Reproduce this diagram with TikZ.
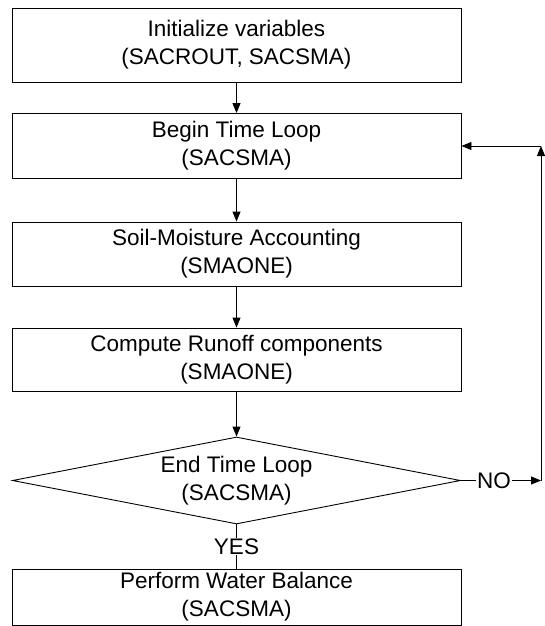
\documentclass[tikz,border=0pt]{standalone}
\usepackage{fontspec}
\setmainfont{Liberation Sans}
\usetikzlibrary{shapes.geometric,arrows.meta}
\tikzset{
  stepbox/.style={draw, rectangle, line width=0.9pt, minimum width=449pt,
    inner sep=0pt, align=center, font=\fontsize{22.5}{28}\selectfont},
  testbox/.style={draw, diamond, line width=0.9pt, minimum width=448pt,
    minimum height=87pt, aspect=5.15, inner sep=0pt, align=center,
    font=\fontsize{22.5}{28}\selectfont},
  flow/.style={line width=0.9pt, -{Triangle[length=10pt,width=8pt]}},
  tag/.style={font=\fontsize{22.5}{24}\selectfont, fill=white, inner sep=1pt}
}
\begin{document}
\begin{tikzpicture}[x=1pt,y=-1pt]
\useasboundingbox (0,0) rectangle (545,626);
\node[stepbox, minimum height=74pt] (init) at (236.5,45) {Initialize variables\\(SACROUT, SACSMA)};
\node[stepbox, minimum height=65pt] (begin) at (236.5,146) {Begin Time Loop\\(SACSMA)};
\node[stepbox, minimum height=64pt] (soil) at (236.5,254) {Soil-Moisture Accounting\\(SMAONE)};
\node[stepbox, minimum height=63pt] (runoff) at (236.5,359.5) {Compute Runoff components\\(SMAONE)};
\node[testbox] (endloop) at (236.5,480.5) {End Time Loop\\(SACSMA)};
\node[stepbox, minimum height=56pt] (balance) at (236.5,597) {Perform Water Balance\\(SACSMA)};
\node[tag] (no) at (494,480.5) {NO};
\coordinate (c1) at (541,480.5);
\coordinate (c2) at (541,146);
\draw[flow] (init) -- (begin);
\draw[flow] (begin) -- (soil);
\draw[flow] (soil) -- (runoff);
\draw[flow] (runoff) -- (endloop);
\draw[line width=0.9pt] (endloop.south) -- (balance.north) node[tag, midway] (yes) {YES};
\draw[line width=0.9pt] (endloop.east) -- (no.west);
\draw[flow] (no.east) -- (c1);
\draw[flow] (c1) -- (c2);
\draw[flow] (c2) -- (begin.east);
\end{tikzpicture}
\end{document}
